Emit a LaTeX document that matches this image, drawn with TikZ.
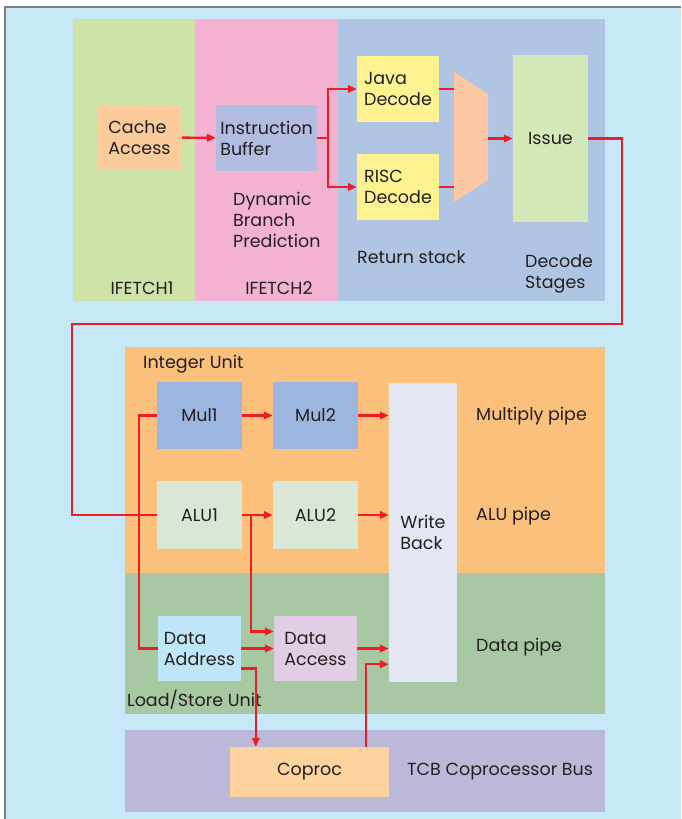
\documentclass[tikz,border=0pt]{standalone}
\usepackage{fontspec}
\setmainfont{Poppins}
\usetikzlibrary{arrows.meta}

\definecolor{bgblue}{HTML}{C6E8F7}
\definecolor{ifone}{HTML}{CDE3A9}
\definecolor{iftwo}{HTML}{F4B2D3}
\definecolor{decblue}{HTML}{B0C5E4}
\definecolor{cachec}{HTML}{FBCB9C}
\definecolor{bufc}{HTML}{B0BCE0}
\definecolor{decyel}{HTML}{FEF390}
\definecolor{muxc}{HTML}{FCC7A4}
\definecolor{issuec}{HTML}{D4E8B8}
\definecolor{intorange}{HTML}{FBC07C}
\definecolor{mulc}{HTML}{9BB7E0}
\definecolor{aluc}{HTML}{D9E8D6}
\definecolor{wbc}{HTML}{E3E6F3}
\definecolor{datagreen}{HTML}{A8C8A3}
\definecolor{daddrc}{HTML}{BEE6F8}
\definecolor{daccc}{HTML}{E1CDE4}
\definecolor{tcbc}{HTML}{BCB8DA}
\definecolor{coprocc}{HTML}{FED39E}
\definecolor{wirered}{HTML}{EE1C25}
\definecolor{ink}{HTML}{231F20}

\begin{document}
\begin{tikzpicture}[x=1pt, y=-1pt, font=\fontsize{17.5}{21}\selectfont, text=ink,
    blk/.style={inner sep=0pt, align=left},
    lbl/.style={inner sep=0pt, align=left},
    wire/.style={draw=wirered, line width=2.4pt},
    arr/.style={wire, -{Triangle[length=9pt,width=7.5pt]}}]
    \useasboundingbox (0,0) rectangle (681,819);
    \fill[white] (0,0) rectangle (681,819);
    \fill[bgblue] (5,7) rectangle (681,819);
    \draw[gray, line width=1.5pt] (5,819) -- (5,7) -- (681,7);

    % fetch and decode stages
    \fill[ifone] (73,19) rectangle (195,301);
    \fill[iftwo] (195,19) rectangle (338,301);
    \fill[decblue] (338,19) rectangle (605,301);

    \node[blk, fill=cachec, minimum width=85pt, minimum height=65pt] (cache) at (139.5,137.5) {Cache\\Access};
    \node[blk, fill=bufc, minimum width=101pt, minimum height=66pt] (ibuf) at (266.5,138) {Instruction\\Buffer};
    \node[blk, fill=decyel, minimum width=82pt, minimum height=66pt] (java) at (398,89) {Java\\Decode};
    \node[blk, fill=decyel, minimum width=82pt, minimum height=66pt] (risc) at (398,187) {RISC\\Decode};
    \node[blk, fill=issuec, minimum width=75pt, minimum height=167pt] (issue) at (550.5,138.5) {Issue};

    \coordinate (muxtl) at (454,72);
    \coordinate (muxtr) at (488,94);
    \coordinate (muxbr) at (488,180);
    \coordinate (muxbl) at (454,202);
    \fill[muxc] (muxtl) -- (muxtr) -- (muxbr) -- (muxbl) -- cycle;

    \node[lbl] (if1) at (142,288) {IFETCH1};
    \node[lbl] (if2) at (279,288) {IFETCH2};
    \node[lbl, anchor=north west] (dbp) at (233,192) {Dynamic\\Branch\\Prediction};
    \node[lbl, anchor=west] (rstack) at (357,257) {Return stack};
    \node[lbl, anchor=north west] (dstages) at (525,254) {Decode\\Stages};

    % execute units
    \fill[intorange] (125,347) rectangle (605,573);
    \fill[datagreen] (125,573) rectangle (605,714);
    \fill[tcbc] (125,730) rectangle (605,812);

    \node[blk, fill=mulc, minimum width=85pt, minimum height=67pt] (mul1) at (199.5,415.5) {Mul1};
    \node[blk, fill=mulc, minimum width=85pt, minimum height=67pt] (mul2) at (315.5,415.5) {Mul2};
    \node[blk, fill=aluc, minimum width=85pt, minimum height=68pt] (alu1) at (199.5,515) {ALU1};
    \node[blk, fill=aluc, minimum width=85pt, minimum height=68pt] (alu2) at (315.5,515) {ALU2};
    \node[blk, fill=wbc, minimum width=68pt, minimum height=299pt] (wb) at (423,532.5) {Write\\Back};
    \node[blk, fill=daddrc, minimum width=83pt, minimum height=65pt] (daddr) at (199.5,648.5) {Data\\Address};
    \node[blk, fill=daccc, minimum width=83pt, minimum height=65pt] (dacc) at (315.5,648.5) {Data\\Access};
    \node[blk, fill=coprocc, minimum width=159pt, minimum height=50pt] (coproc) at (309.5,772) {Coproc};

    \node[lbl, anchor=west] (iu) at (143,364) {Integer Unit};
    \node[lbl, anchor=west] (lsu) at (127,700) {Load/Store Unit};
    \node[lbl, anchor=west] (tcb) at (407,772) {TCB Coprocessor Bus};
    \node[lbl, anchor=west] (mpipe) at (476,416) {Multiply pipe};
    \node[lbl, anchor=west] (apipe) at (476,516) {ALU pipe};
    \node[lbl, anchor=west] (dpipe) at (476,647) {Data pipe};

    % connectors
    \draw[arr] (cache) -- (ibuf);
    \coordinate (fork) at ([xshift=11pt]ibuf.east);
    \draw[arr] (ibuf.east) -- (fork) |- (java.west);
    \draw[arr] (fork) |- (risc.west);
    \draw[wire] (java.east) -- (java.east -| muxtl);
    \draw[wire] (risc.east) -- (risc.east -| muxbl);
    \draw[arr] (muxtr |- issue.west) -- (issue.west);

    \coordinate (split) at (139,515);
    \draw[wire] (issue.east) -- (622,138.5) -- (622,324) -- (72,324) |- (alu1.west);
    \draw[wire] (mul1.west) -| (split) |- (daddr.west);
    \draw[arr] (mul1) -- (mul2);
    \draw[arr] (mul2.east) -- (mul2.east -| wb.west);
    \draw[arr] (alu1) -- (alu2);
    \draw[arr] (alu2.east) -- (alu2.east -| wb.west);
    \coordinate (abranch) at ([xshift=9pt]alu1.east);
    \draw[arr] (abranch) |- ([yshift=17pt]dacc.west);
    \draw[arr] (daddr) -- (dacc);
    \draw[arr] (dacc.east) -- (dacc.east -| wb.west);
    \draw[arr] ([yshift=-20pt]daddr.east) -| ([xshift=26pt]coproc.north west);
    \draw[arr] ([xshift=136pt]coproc.north west) |- ([yshift=18pt]wb.south west);
\end{tikzpicture}
\end{document}
